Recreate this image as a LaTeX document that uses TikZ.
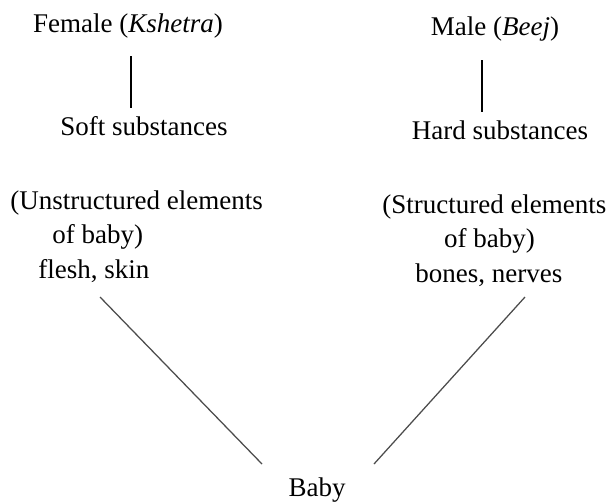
\documentclass[tikz,border=0pt]{standalone}
\usepackage{fontspec}
\setmainfont{Liberation Serif}
\usepackage{tikz}

\begin{document}
\begin{tikzpicture}[x=0.025cm,y=-0.025cm,
  lbl/.style={inner sep=0pt,font=\fontsize{19.2}{24.5}\selectfont},
  stem/.style={line width=1.2pt,color=black},
  limb/.style={line width=0.9pt,color=black!70}]
\useasboundingbox (0,0) rectangle (607,502);
\node[lbl,anchor=base] (female) at (128,32) {Female (\textit{Kshetra})};
\node[lbl,anchor=base] (male) at (495,35) {Male (\textit{Beej})};
\node[lbl,anchor=base] (soft) at (144,135) {Soft substances};
\node[lbl,anchor=base] (hard) at (500,139) {Hard substances};
% base of a multi-line node is its last line
\node[lbl,anchor=base west,align=left] (unstr) at (10,278) {(Unstructured elements\\\hspace*{30pt}of baby)\\\hspace*{20pt}flesh, skin};
\node[lbl,anchor=base west,align=left] (str) at (382,282) {(Structured elements\\\hspace*{44pt}of baby)\\\hspace*{23.5pt}bones, nerves};
\node[lbl,anchor=base] (baby) at (317,496) {Baby};
\draw[stem]([shift={(3,24)}]female.base)--([shift={(-13,-27)}]soft.base);
\draw[stem]([shift={(-13,25)}]male.base)--([shift={(-18,-27)}]hard.base);
\draw[limb]([shift={(90,19)}]unstr.base west)--([shift={(-55,-32)}]baby.base);
\draw[limb]([shift={(143,15)}]str.base west)--([shift={(57,-32)}]baby.base);
\end{tikzpicture}
\end{document}
